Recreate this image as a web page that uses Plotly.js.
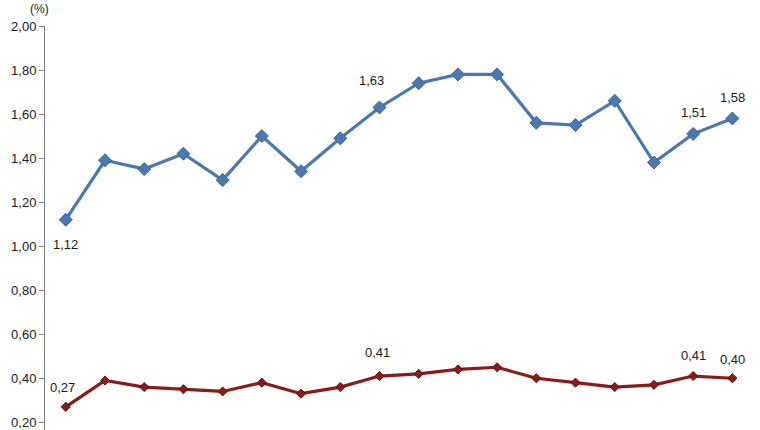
<!DOCTYPE html>
<html>
<head>
<meta charset="utf-8">
<script src="https://cdn.plot.ly/plotly-3.0.1.min.js"></script>
<style>
  html, body { margin: 0; padding: 0; background: #ffffff; }
  #chart { width: 760px; height: 430px; }
</style>
</head>
<body>
<div id="chart"></div>
<script>
// 18 periods, no visible category labels in the picture
var periods = [1, 2, 3, 4, 5, 6, 7, 8, 9, 10, 11, 12, 13, 14, 15, 16, 17, 18];

var blueValues = [1.12, 1.39, 1.35, 1.42, 1.30, 1.50, 1.34, 1.49, 1.63, 1.74, 1.78, 1.78, 1.56, 1.55, 1.66, 1.38, 1.51, 1.58];
var redValues = [0.27, 0.39, 0.36, 0.35, 0.34, 0.38, 0.33, 0.36, 0.41, 0.42, 0.44, 0.45, 0.40, 0.38, 0.36, 0.37, 0.41, 0.40];

// which points carry a value label
var blueLabelIdx = [0, 8, 16, 17];
var redLabelIdx = [0, 8, 16, 17];

var yTicks = [0.2, 0.4, 0.6, 0.8, 1.0, 1.2, 1.4, 1.6, 1.8, 2.0];

var fontFamily = 'Liberation Sans, Arial, sans-serif';

var traceBlue = {
  x: periods,
  y: blueValues,
  type: 'scatter',
  mode: 'lines+markers',
  line: { color: '#4a78b0', width: 3.2 },
  marker: { symbol: 'diamond', size: 10, color: '#4a78b0', line: { color: '#3c679c', width: 1 } },
  cliponaxis: false,
  hoverinfo: 'skip',
};

var traceRed = {
  x: periods,
  y: redValues,
  type: 'scatter',
  mode: 'lines+markers',
  line: { color: '#8c1a1a', width: 3.2 },
  marker: { symbol: 'diamond', size: 7, color: '#8c1a1a', line: { color: '#5e0f0f', width: 1 } },
  cliponaxis: false,
  hoverinfo: 'skip',
};

function fmt(v) {
  return v.toFixed(2).replace('.', ',');
}

var annotations = [];

// NOTE: [xshift, pixels above point] tuned by eye against the picture
var blueOffsets = { 0: [0, -25], 8: [-8, 27], 16: [0, 21], 17: [0, 21] };
var redOffsets = { 0: [-3, 19], 8: [-2, 24], 16: [0, 21], 17: [0, 19] };

blueLabelIdx.forEach((i) => {
  annotations.push({
    x: periods[i],
    y: blueValues[i],
    xref: 'x',
    yref: 'y',
    text: fmt(blueValues[i]),
    showarrow: false,
    xshift: blueOffsets[i][0],
    yshift: blueOffsets[i][1],
    font: { family: fontFamily, size: 13, color: '#1a1a1a' },
  });
});

redLabelIdx.forEach((i) => {
  annotations.push({
    x: periods[i],
    y: redValues[i],
    xref: 'x',
    yref: 'y',
    text: fmt(redValues[i]),
    showarrow: false,
    xshift: redOffsets[i][0],
    yshift: redOffsets[i][1],
    font: { family: fontFamily, size: 13, color: '#1a1a1a' },
  });
});

annotations.push({
  x: 0,
  y: 1,
  xref: 'paper',
  yref: 'paper',
  xanchor: 'center',
  yanchor: 'bottom',
  xshift: -6,
  yshift: 8,
  text: '(%)',
  showarrow: false,
  font: { family: fontFamily, size: 12, color: '#1a1a1a' },
});

var layout = {
  width: 760,
  height: 430,
  margin: { l: 45, r: 8, t: 26, b: 0 },
  paper_bgcolor: '#ffffff',
  plot_bgcolor: '#ffffff',
  showlegend: false,
  separators: ',.',
  font: { family: fontFamily, size: 13, color: '#1a1a1a' },
  xaxis: {
    range: [0.47, 18.5],
    showgrid: false,
    zeroline: false,
    showline: false,
    showticklabels: false,
    ticks: '',
  },
  yaxis: {
    range: [0.165, 2.0],
    tickvals: yTicks,
    tickformat: '.2f',
    ticklabeloverflow: 'allow',
    showgrid: false,
    zeroline: false,
    showline: true,
    linecolor: '#7f7f7f',
    linewidth: 1,
    ticks: 'outside',
    ticklen: 5,
    tickcolor: '#7f7f7f',
    tickfont: { family: fontFamily, size: 13, color: '#1a1a1a' },
  },
  annotations: annotations,
};

Plotly.newPlot('chart', [traceBlue, traceRed], layout, { displayModeBar: false, staticPlot: true });
</script>
</body>
</html>
